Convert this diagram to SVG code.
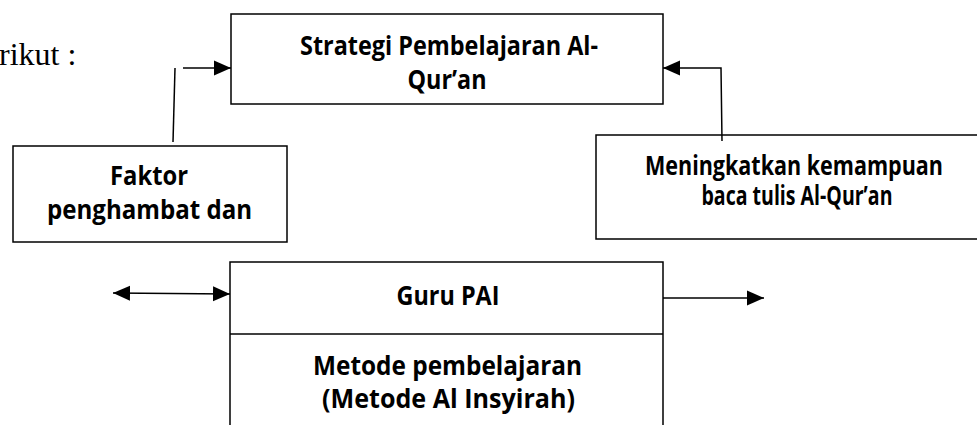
<svg xmlns="http://www.w3.org/2000/svg" width="977" height="425" viewBox="0 0 977 425">
<style>
.box{fill:#fff;stroke:#000;stroke-width:1.5}
.ln{fill:none;stroke:#000;stroke-width:1.5}
.t{font-family:"Open Sans","Noto Sans","Liberation Sans",sans-serif;font-weight:bold;font-size:27px;fill:#000;text-anchor:middle}
.m{font-size:26px}
.s{font-family:"Liberation Serif","Times New Roman",serif;font-size:32px;fill:#000}
</style>
<defs>
<marker id="ah" markerUnits="userSpaceOnUse" markerWidth="18" markerHeight="16" refX="17" refY="8" orient="auto-start-reverse">
<path d="M0,0.5 L17,8 L0,15.5 Z" fill="#000"/>
</marker>
</defs>
<rect width="977" height="425" fill="#fff"/>
<text class="s" x="-1" y="65">rikut :</text>
<g id="strategi">
<rect class="box" x="231" y="14" width="432" height="90"/>
<text class="t" x="449" y="55" textLength="298" lengthAdjust="spacingAndGlyphs">Strategi Pembelajaran Al-</text>
<text class="t" x="447" y="89" textLength="79" lengthAdjust="spacingAndGlyphs">Qur’an</text>
</g>
<g id="faktor">
<rect class="box" x="13" y="146" width="274" height="96"/>
<text class="t" x="149" y="185" textLength="78" lengthAdjust="spacingAndGlyphs">Faktor</text>
<text class="t" x="149.5" y="219" textLength="205" lengthAdjust="spacingAndGlyphs">penghambat dan</text>
</g>
<g id="meningkatkan">
<path class="box" d="M990,135 H596 V239 H990"/>
<text class="t m" x="794" y="175" textLength="298" lengthAdjust="spacingAndGlyphs">Meningkatkan kemampuan</text>
<text class="t m" x="797" y="205" textLength="191" lengthAdjust="spacingAndGlyphs">baca tulis Al-Qur’an</text>
</g>
<g id="guru">
<path class="box" d="M230,430 V262 H663 V430"/>
<line class="ln" x1="230" y1="334" x2="663" y2="334"/>
<text class="t" x="448" y="305" textLength="103" lengthAdjust="spacingAndGlyphs">Guru PAI</text>
<text class="t" x="447.5" y="375" textLength="269" lengthAdjust="spacingAndGlyphs">Metode pembelajaran</text>
<text class="t" x="448.5" y="408" textLength="253" lengthAdjust="spacingAndGlyphs">(Metode Al Insyirah)</text>
</g>
<g id="connectors">
<line class="ln" x1="175" y1="68" x2="173" y2="142"/>
<line class="ln" x1="183" y1="68" x2="231" y2="68" marker-end="url(#ah)"/>
<polyline class="ln" points="722,141 721,68 663,68" marker-end="url(#ah)"/>
<line class="ln" x1="113" y1="293" x2="230" y2="294" marker-start="url(#ah)" marker-end="url(#ah)"/>
<line class="ln" x1="663" y1="298" x2="764" y2="298" marker-end="url(#ah)"/>
</g>
</svg>
